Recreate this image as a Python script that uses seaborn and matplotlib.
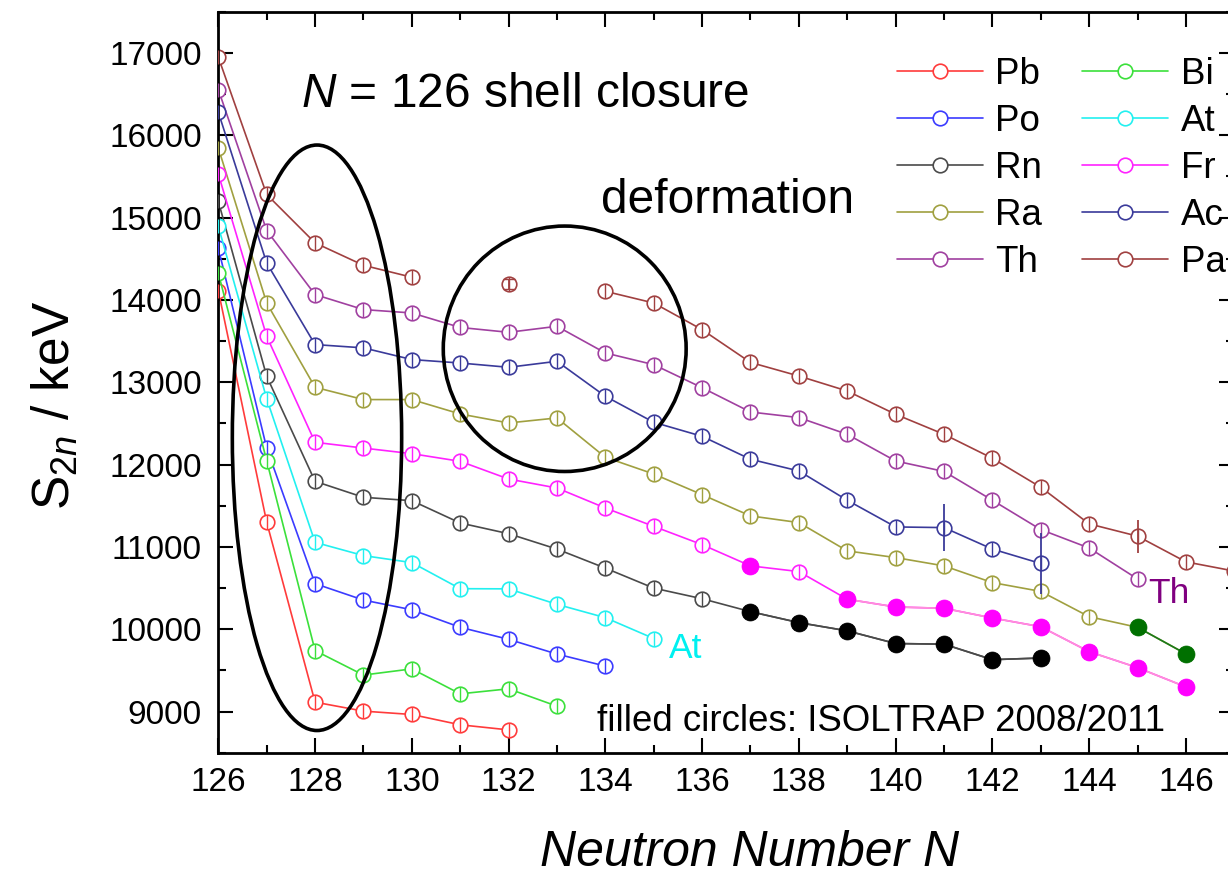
import numpy as np
import pandas as pd
import matplotlib
matplotlib.use('Agg')
import matplotlib.pyplot as plt
from matplotlib.patches import Ellipse
from matplotlib.lines import Line2D
from matplotlib.ticker import MultipleLocator
import seaborn as sns

# =============================================================================
# 1. DATOS (S2n en keV)
# =============================================================================
pb_n = [126, 127, 128, 129, 130, 131, 132]
pb_s = [14113, 11300, 9114, 9005, 8964, 8839, 8777]

bi_n = [126, 127, 128, 129, 130, 131, 132, 133]
bi_s = [14327, 12047, 9740, 9443, 9518, 9215, 9276, 9065]

po_n = [126, 127, 128, 129, 130, 131, 132, 133, 134]
po_s = [14630, 12200, 10553, 10354, 10236, 10023, 9877, 9698, 9552]

at_n = [126, 127, 128, 129, 130, 131, 132, 133, 134, 135]
at_s = [14894, 12800, 11055, 10894, 10809, 10492, 10490, 10302, 10140, 9887]

rn_n = [126, 127, 128, 129, 130, 131, 132, 133, 134, 135, 136]
rn_s = [15198, 13072, 11796, 11602, 11561, 11290, 11160, 10973, 10742, 10499, 10370]

fr_n = [126, 127, 128, 129, 130, 131, 132, 133, 134, 135, 136, 138]
fr_s = [15530, 13558, 12270, 12200, 12132, 12039, 11824, 11715, 11472, 11249, 11027, 10700]

ra_n = [126, 127, 128, 129, 130, 131, 132, 133, 134, 135, 136, 137, 138, 139,
        140, 141, 142, 143, 144]
ra_s = [15846, 13962, 12938, 12789, 12789, 12614, 12505, 12566, 12088, 11885,
        11634, 11376, 11295, 10951, 10870, 10769, 10566, 10459, 10152]

ac_n = [126, 127, 128, 129, 130, 131, 132, 133, 134, 135, 136, 137, 138, 139,
        140, 141, 142, 143]
ac_s = [16280, 14448, 13457, 13417, 13275, 13233, 13181, 13254, 12829, 12513,
        12343, 12064, 11922, 11566, 11242, 11234, 10973, 10798]

th_n = [126, 127, 128, 129, 130, 131, 132, 133, 134, 135, 136, 137, 138, 139,
        140, 141, 142, 143, 144, 145]
th_s = [16555, 14842, 14064, 13882, 13841, 13665, 13606, 13679, 13355, 13213,
        12933, 12638, 12570, 12367, 12043, 11916, 11566, 11210, 10986, 10610]

pa_n = [126, 127, 128, 129, 130, 132, 134, 135, 136, 137, 138, 139, 140, 141,
        142, 143, 144, 145, 146, 147]
pa_s = [16948, 15280, 14692, 14420, 14275, 14198, 14104, 13962, 13638, 13240,
        13075, 12893, 12610, 12367, 12076, 11724, 11279, 11130, 10818, 10706]

# ISOLTRAP 2008/2011 (circulos llenos)
rn_iso_n = [137, 138, 139, 140, 141, 142, 143]
rn_iso_s = [10213, 10080, 9980, 9826, 9818, 9630, 9650]

fr_iso_n = [137, 139, 140, 141, 142, 143, 144, 145, 146]
fr_iso_s = [10769, 10364, 10270, 10254, 10136, 10030, 9727, 9533, 9299]

ra_iso_n = [145, 146]
ra_iso_s = [10023, 9700]

# barras de error grandes (elemento, N, error keV)
errores_grandes = [('Ac', 141, 290), ('Ac', 143, 365), ('Pa', 145, 200), ('Pa', 132, 60)]

elementos = ['Pb', 'Po', 'Rn', 'Ra', 'Th', 'Bi', 'At', 'Fr', 'Ac', 'Pa']
colores = {
    'Pb': '#ff3b3b', 'Bi': '#3be03b', 'Po': '#3b3bff', 'At': '#22f0f0',
    'Rn': '#4a4a4a', 'Fr': '#ff22ff', 'Ra': '#a0a040', 'Ac': '#3a3a9a',
    'Th': '#a040a0', 'Pa': '#a04040',
}

datos_ame = {
    'Pb': (pb_n, pb_s), 'Bi': (bi_n, bi_s), 'Po': (po_n, po_s),
    'At': (at_n, at_s), 'Rn': (rn_n, rn_s), 'Fr': (fr_n, fr_s),
    'Ra': (ra_n, ra_s), 'Ac': (ac_n, ac_s), 'Th': (th_n, th_s),
    'Pa': (pa_n, pa_s),
}
datos_iso = {
    'Rn': (rn_iso_n, rn_iso_s, '#4a4a4a', 'black'),
    'Fr': (fr_iso_n, fr_iso_s, '#ff90d8', '#ff00ff'),
    'Ra': (ra_iso_n, ra_iso_s, '#1a7a1a', '#007000'),
}


def tabla(ns, ss):
    df = pd.DataFrame({'N': ns, 'S2n': ss}).sort_values('N')
    # cortar la linea donde falta un N
    df['tramo'] = (df['N'].diff() > 1).cumsum()
    return df


# =============================================================================
# 2. FIGURA
# =============================================================================
sns.set_style('ticks')
plt.rcParams['font.family'] = ['Liberation Sans', 'DejaVu Sans']
plt.rcParams['mathtext.fontset'] = 'custom'
plt.rcParams['mathtext.rm'] = 'Liberation Sans'
plt.rcParams['mathtext.it'] = 'Liberation Sans:italic'
plt.rcParams['text.color'] = 'black'
plt.rcParams['axes.labelcolor'] = 'black'
plt.rcParams['xtick.color'] = 'black'
plt.rcParams['ytick.color'] = 'black'

W, H = 1228, 874
fig = plt.figure(figsize=(W / 100, H / 100), dpi=100)
ax = fig.add_axes([218.3 / W, 121.3 / H, 1016 / W, 741 / H])

MS = 10.5

for el in elementos:
    ns, ss = datos_ame[el]
    if el in datos_iso:
        ns = ns + datos_iso[el][0]
        ss = ss + datos_iso[el][1]
    df = tabla(ns, ss)
    sns.lineplot(
        data=df, x='N', y='S2n', units='tramo', estimator=None,
        color=colores[el], linewidth=1.2, marker='o', markersize=MS,
        markerfacecolor='white', markeredgecolor=colores[el],
        markeredgewidth=1.2, ax=ax, zorder=2
    )
    # barrita de error dentro de cada circulo
    ax.plot(datos_ame[el][0], datos_ame[el][1], linestyle='none', marker='|',
            markersize=MS, markeredgewidth=1.0, color=colores[el], zorder=3)

for el, n, err in errores_grandes:
    ns, ss = datos_ame[el]
    ax.errorbar(n, ss[ns.index(n)], yerr=err, fmt='none', ecolor=colores[el],
                elinewidth=1.3, capsize=4 if err < 100 else 0, zorder=3)

for el, (ns, ss, c_linea, c_punto) in datos_iso.items():
    df = tabla(ns, ss)
    sns.lineplot(
        data=df, x='N', y='S2n', units='tramo', estimator=None,
        color=c_linea, linewidth=1.2, ax=ax, zorder=4
    )
    sns.scatterplot(
        data=df, x='N', y='S2n', color=c_punto, s=150, edgecolor=c_punto,
        linewidth=0.5, ax=ax, zorder=5
    )

# elipse y circulo
ax.add_patch(Ellipse((128.04, 12325), 3.5, 7111, fill=False,
                     edgecolor='black', linewidth=2.6, zorder=6))
ax.add_patch(Ellipse((133.16, 13406), 5.02, 2981, fill=False,
                     edgecolor='black', linewidth=2.6, zorder=6))

# textos
ax.text(127.71, 16340, '$\\it{N}$ = 126 shell closure', fontsize=34.5,
        va='baseline', ha='left')
ax.text(133.91, 15055, 'deformation', fontsize=34.5, va='baseline', ha='left')
ax.text(133.82, 8769, 'filled circles: ISOLTRAP 2008/2011', fontsize=26.4,
        va='baseline', ha='left')
ax.text(135.31, 9655, 'At', fontsize=25.5, color='#00f0f0',
        va='baseline', ha='left')
ax.text(145.23, 10322, 'Th', fontsize=25.5, color='#800080',
        va='baseline', ha='left')

# ejes
ax.set_xlim(126, 147)
ax.set_ylim(8500, 17500)
ax.xaxis.set_major_locator(MultipleLocator(2))
ax.xaxis.set_minor_locator(MultipleLocator(1))
ax.yaxis.set_major_locator(MultipleLocator(1000))
ax.yaxis.set_minor_locator(MultipleLocator(500))
ax.tick_params(which='both', direction='in', top=True, right=True,
               width=1.5, colors='black')
ax.tick_params(which='major', length=11)
ax.tick_params(which='minor', length=5.5)
ax.tick_params(axis='x', which='major', labelsize=24, pad=10)
ax.tick_params(axis='y', which='major', labelsize=24, pad=12)
for sp in ax.spines.values():
    sp.set_linewidth(2)
    sp.set_color('black')

ax.set_xlabel('Neutron Number N', fontsize=36, style='italic')
ax.set_ylabel('S$_{2n}$ / keV', fontsize=37)
ax.xaxis.set_label_coords(0.523, -0.104)
ax.yaxis.set_label_coords(-0.136, 0.469)

handles = [
    Line2D([], [], color=colores[el], linewidth=1.2, marker='o',
           markersize=MS, markerfacecolor='white',
           markeredgecolor=colores[el], markeredgewidth=1.2)
    for el in elementos
]
fig.legend(handles, elementos, loc='upper left',
           bbox_to_anchor=(896.7 / W, 1 - 56.5 / H), ncol=2, frameon=False,
           fontsize=26.5, borderpad=0, borderaxespad=0, handlelength=2.34,
           handletextpad=0.33, columnspacing=1.1, labelspacing=0.33)

plt.savefig('out.png', dpi=100)
